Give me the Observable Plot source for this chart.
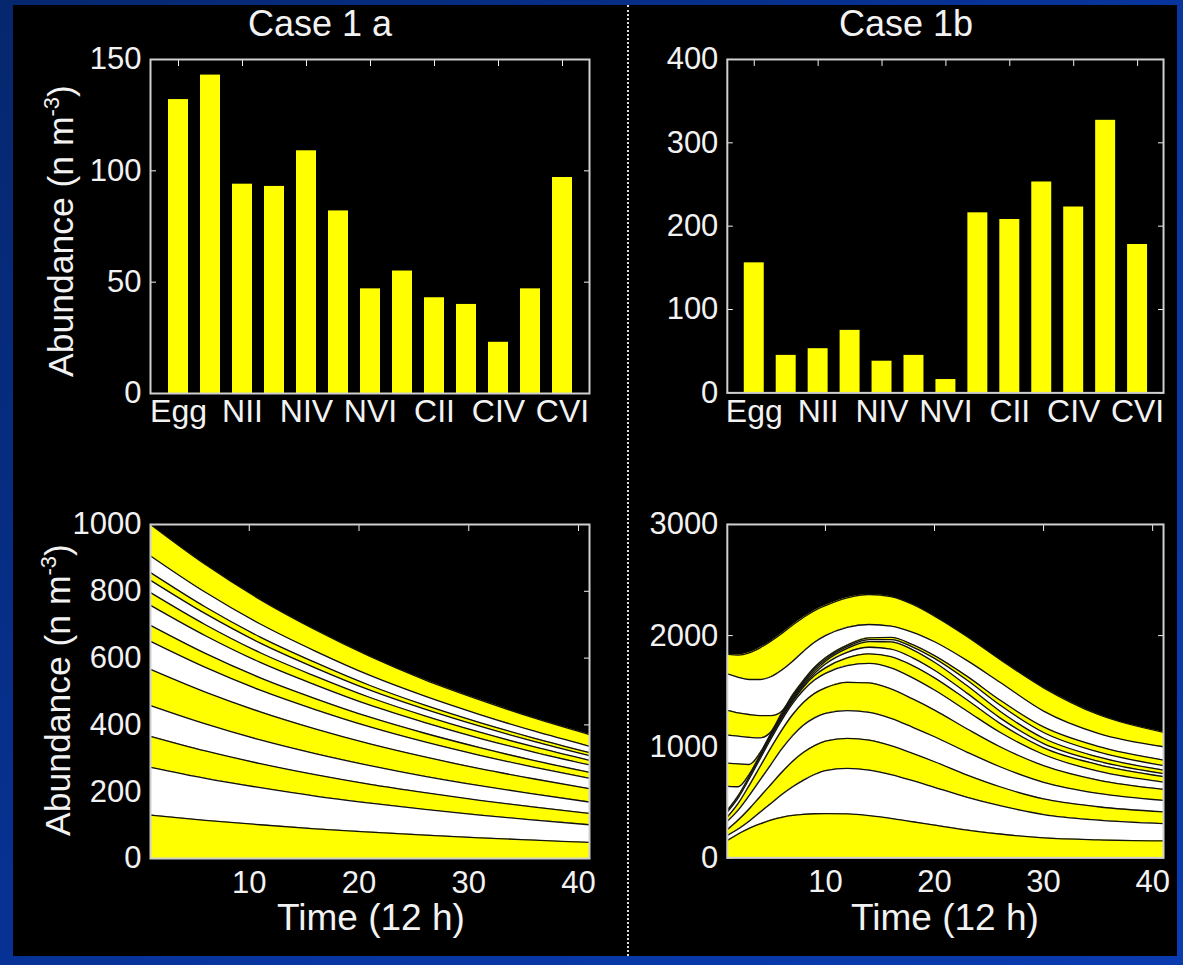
<!DOCTYPE html>
<html>
<head>
<meta charset="utf-8">
<script src="https://cdn.jsdelivr.net/npm/d3@7"></script>
<script src="https://cdn.jsdelivr.net/npm/@observablehq/plot@0.6"></script>
<style>
  html, body { margin: 0; padding: 0; background: #0634a0; }
  #page { position: relative; width: 1183px; height: 965px; overflow: hidden;
    background: linear-gradient(135deg, #05276e 0%, #0836a2 60%, #0a3cb0 100%);
    font-family: "Liberation Sans", Arial, sans-serif; color: #f2f2f2; }
  #black { position: absolute; left: 13px; top: 5px; width: 1164px; height: 951px; background: #000; }
  #divider { position: absolute; left: 627px; top: 5px; height: 951px; border-left: 2px dotted #dcdcdc; }
  .panel { position: absolute; }
  .title { position: absolute; width: 300px; text-align: center; font-size: 36px; line-height: 40px; white-space: nowrap; }
  .xlab { position: absolute; width: 300px; text-align: center; font-size: 37px; line-height: 40px; white-space: nowrap; }
  .ylab { position: absolute; width: 400px; height: 40px; line-height: 40px; text-align: center; font-size: 35.5px;
    white-space: nowrap; transform: rotate(-90deg); transform-origin: 50% 50%; }
  .ylab sup { font-size: 0.62em; line-height: 0; vertical-align: 0.62em; }
</style>
</head>
<body>
<div id="page">
  <div id="black"></div>
  <div id="divider"></div>
  <div id="tl" class="panel"></div>
  <div id="tr" class="panel"></div>
  <div id="bl" class="panel"></div>
  <div id="br" class="panel"></div>
  <div class="title" style="left:170px; top:4px;">Case 1 a</div>
  <div class="title" style="left:756px; top:4px;">Case 1b</div>
  <div class="ylab" style="left:-139px; top:211px;">Abundance (n m<sup>-3</sup>)</div>
  <div class="ylab" style="left:-142px; top:670px;">Abundance (n m<sup>-3</sup>)</div>
  <div class="xlab" style="left:221px; top:898px;">Time (12 h)</div>
  <div class="xlab" style="left:795px; top:898px;">Time (12 h)</div>
</div>
<script>
// ---------- data ----------
const stages = ["Egg","NI","NII","NIII","NIV","NV","NVI","CI","CII","CIII","CIV","CV","CVI"];
const labelStages = ["Egg","NII","NIV","NVI","CII","CIV","CVI"];

const barsA = [132,143,94,93,109,82,47,55,43,40,23,47,97];
const barsB = [156,45,53,75,38,45,16,216,208,253,223,327,178];

const yTicksBarA = [0,50,100,150];
const yTicksBarB = [0,100,200,300,400];
const yTicksAreaA = [0,200,400,600,800,1000];
const yTicksAreaB = [0,1000,2000,3000];
const timeTicks = [10,20,30,40];

// Case 1 a: abundance per stage through time
const timesA = [1,6,11,16,21,26,31,36,41];
const a_Egg  = [130,114,101,89,79,70,62,55,48];
const a_NI   = [143,126,111,98,87,77,68,60,53];
const a_NII  = [93,82,72,64,56,50,44,39,34];
const a_NIII = [92,81,71,63,56,49,44,39,34];
const a_NIV  = [108,95,84,74,65,58,51,45,40];
const a_NV   = [84,74,65,58,51,45,40,35,31];
const a_NVI  = [48,42,37,33,29,26,23,20,18];
const a_CI   = [60,53,46,41,36,32,28,25,22];
const a_CII  = [38,33,29,26,23,20,18,16,14];
const a_CIII = [37,33,29,25,22,20,18,16,14];
const a_CIV  = [23,20,18,16,14,12,11,10,9];
const a_CV   = [50,44,39,34,30,27,24,21,19];
const a_CVI  = [94,83,73,64,57,49,44,39,35];

// Case 1b: abundance per stage through time
const timesB = [1,2,3,4,5,6,7,8,9,10,12,14,16,18,20,23,26,30,35,41];
const b_Egg  = [156,215,265,305,340,365,382,392,397,398,395,380,355,325,295,250,215,180,162,153];
const b_NI   = [45,45,65,105,150,205,258,308,353,387,410,410,395,370,340,295,255,210,178,155];
const b_NII  = [53,80,110,140,170,200,230,250,260,265,270,270,260,245,230,200,170,140,120,105];
const b_NIII = [75,90,120,150,180,210,230,245,250,250,250,250,245,235,225,205,180,150,120,104];
const b_NIV  = [38,60,90,120,150,170,190,205,220,230,255,265,265,255,240,210,180,150,120,100];
const b_NV   = [45,50,60,70,80,90,100,110,120,130,150,175,190,190,180,160,130,100,80,65];
const b_NVI  = [16,20,20,20,20,20,20,30,40,50,70,85,100,110,110,100,80,60,60,50];
const b_CI   = [216,80,20,15,15,15,15,15,20,35,50,60,68,70,68,60,50,38,30,26];
const b_CII  = [208,205,90,20,15,15,15,15,20,25,35,50,66,72,72,68,60,48,38,32];
const b_CIII = [253,250,245,135,15,15,15,15,20,15,15,18,20,25,35,50,55,52,45,40];
const b_CIV  = [223,210,205,200,145,15,15,15,15,15,15,17,20,22,25,35,45,50,50,50];
const b_CV   = [327,320,315,325,350,370,300,260,225,200,160,120,101,111,125,142,160,142,117,120];
const b_CVI  = [178,200,240,285,320,330,325,305,285,270,265,270,265,250,230,215,205,210,170,130];

const seriesA = [a_Egg,a_NI,a_NII,a_NIII,a_NIV,a_NV,a_NVI,a_CI,a_CII,a_CIII,a_CIV,a_CV,a_CVI];
const seriesB = [b_Egg,b_NI,b_NII,b_NIII,b_NIV,b_NV,b_NVI,b_CI,b_CII,b_CIII,b_CIV,b_CV,b_CVI];

// ---------- layout ----------
const ML = 110, MR = 20, MT = 20, MB = 80;
const FRAME_H = 334;
const YELLOW = "#ffff00";
const FONT = "Liberation Sans, Arial, sans-serif";
const frameStroke = "#cfcfcf";
const plain = d => String(d);
const blank = () => "";

function commonStyle() {
  return { background: "transparent", color: "#f2f2f2", fontFamily: FONT, overflow: "visible" };
}

function barPlot(values, yDomain, yTicks, frameW) {
  const data = stages.map((s, i) => ({ stage: s, v: values[i] }));
  return Plot.plot({
    width: ML + frameW + MR, height: MT + FRAME_H + MB,
    marginLeft: ML, marginRight: MR, marginTop: MT, marginBottom: MB,
    style: commonStyle(),
    x: { type: "band", domain: stages, paddingInner: 0.375, paddingOuter: 0.36, label: null },
    y: { domain: yDomain, label: null },
    marks: [
      Plot.axisX({ anchor: "bottom", ticks: labelStages, tickSize: -6, tickPadding: 12, fontSize: 32, label: null }),
      Plot.axisX({ anchor: "top", ticks: labelStages, tickSize: -6, tickFormat: blank, label: null }),
      Plot.axisY({ anchor: "left", ticks: yTicks, tickSize: -6, tickPadding: 15, fontSize: 31, tickFormat: plain, label: null }),
      Plot.axisY({ anchor: "right", ticks: yTicks, tickSize: -6, tickFormat: blank, label: null }),
      Plot.barY(data, { x: "stage", y: "v", fill: YELLOW }),
      Plot.frame({ stroke: frameStroke, strokeWidth: 2 })
    ]
  });
}

function areaPlot(times, series, yDomain, yTicks, frameW) {
  const data = stages.flatMap((s, i) => times.map((t, j) => ({ stage: s, idx: i, t, v: series[i][j] })));
  return Plot.plot({
    width: ML + frameW + MR, height: MT + FRAME_H + MB,
    marginLeft: ML, marginRight: MR, marginTop: MT, marginBottom: MB,
    style: commonStyle(),
    x: { domain: [1, 41], label: null },
    y: { domain: yDomain, label: null },
    marks: [
      Plot.axisX({ anchor: "bottom", ticks: timeTicks, tickSize: -6, tickPadding: 18, fontSize: 31, tickFormat: plain, label: null }),
      Plot.axisX({ anchor: "top", ticks: timeTicks, tickSize: -6, tickFormat: blank, label: null }),
      Plot.axisY({ anchor: "left", ticks: yTicks, tickSize: -6, tickPadding: 15, fontSize: 31, tickFormat: plain, label: null }),
      Plot.axisY({ anchor: "right", ticks: yTicks, tickSize: -6, tickFormat: blank, label: null }),
      Plot.areaY(data, { x: "t", y: "v", z: "stage", fill: d => (d.idx % 2 ? "#ffffff" : YELLOW), curve: "monotone-x" }),
      Plot.lineY(data, Plot.stackY2({ x: "t", y: "v", z: "stage", stroke: "#111", strokeWidth: 1.3, curve: "monotone-x" })),
      Plot.frame({ stroke: frameStroke, strokeWidth: 2 })
    ]
  });
}

function place(id, el, left, top) {
  const box = document.getElementById(id);
  box.style.left = left + "px";
  box.style.top = top + "px";
  box.appendChild(el);
}

// frames: left panels x 150..589, right panels x 727..1164; top y 59..393, bottom y 524..858
place("tl", barPlot(barsA, [0, 150], yTicksBarA, 439), 150 - ML, 59 - MT);
place("tr", barPlot(barsB, [0, 400], yTicksBarB, 437), 727 - ML, 59 - MT);
place("bl", areaPlot(timesA, seriesA, [0, 1000], yTicksAreaA, 439), 150 - ML, 524 - MT);
place("br", areaPlot(timesB, seriesB, [0, 3000], yTicksAreaB, 437), 727 - ML, 524 - MT);
</script>
</body>
</html>
